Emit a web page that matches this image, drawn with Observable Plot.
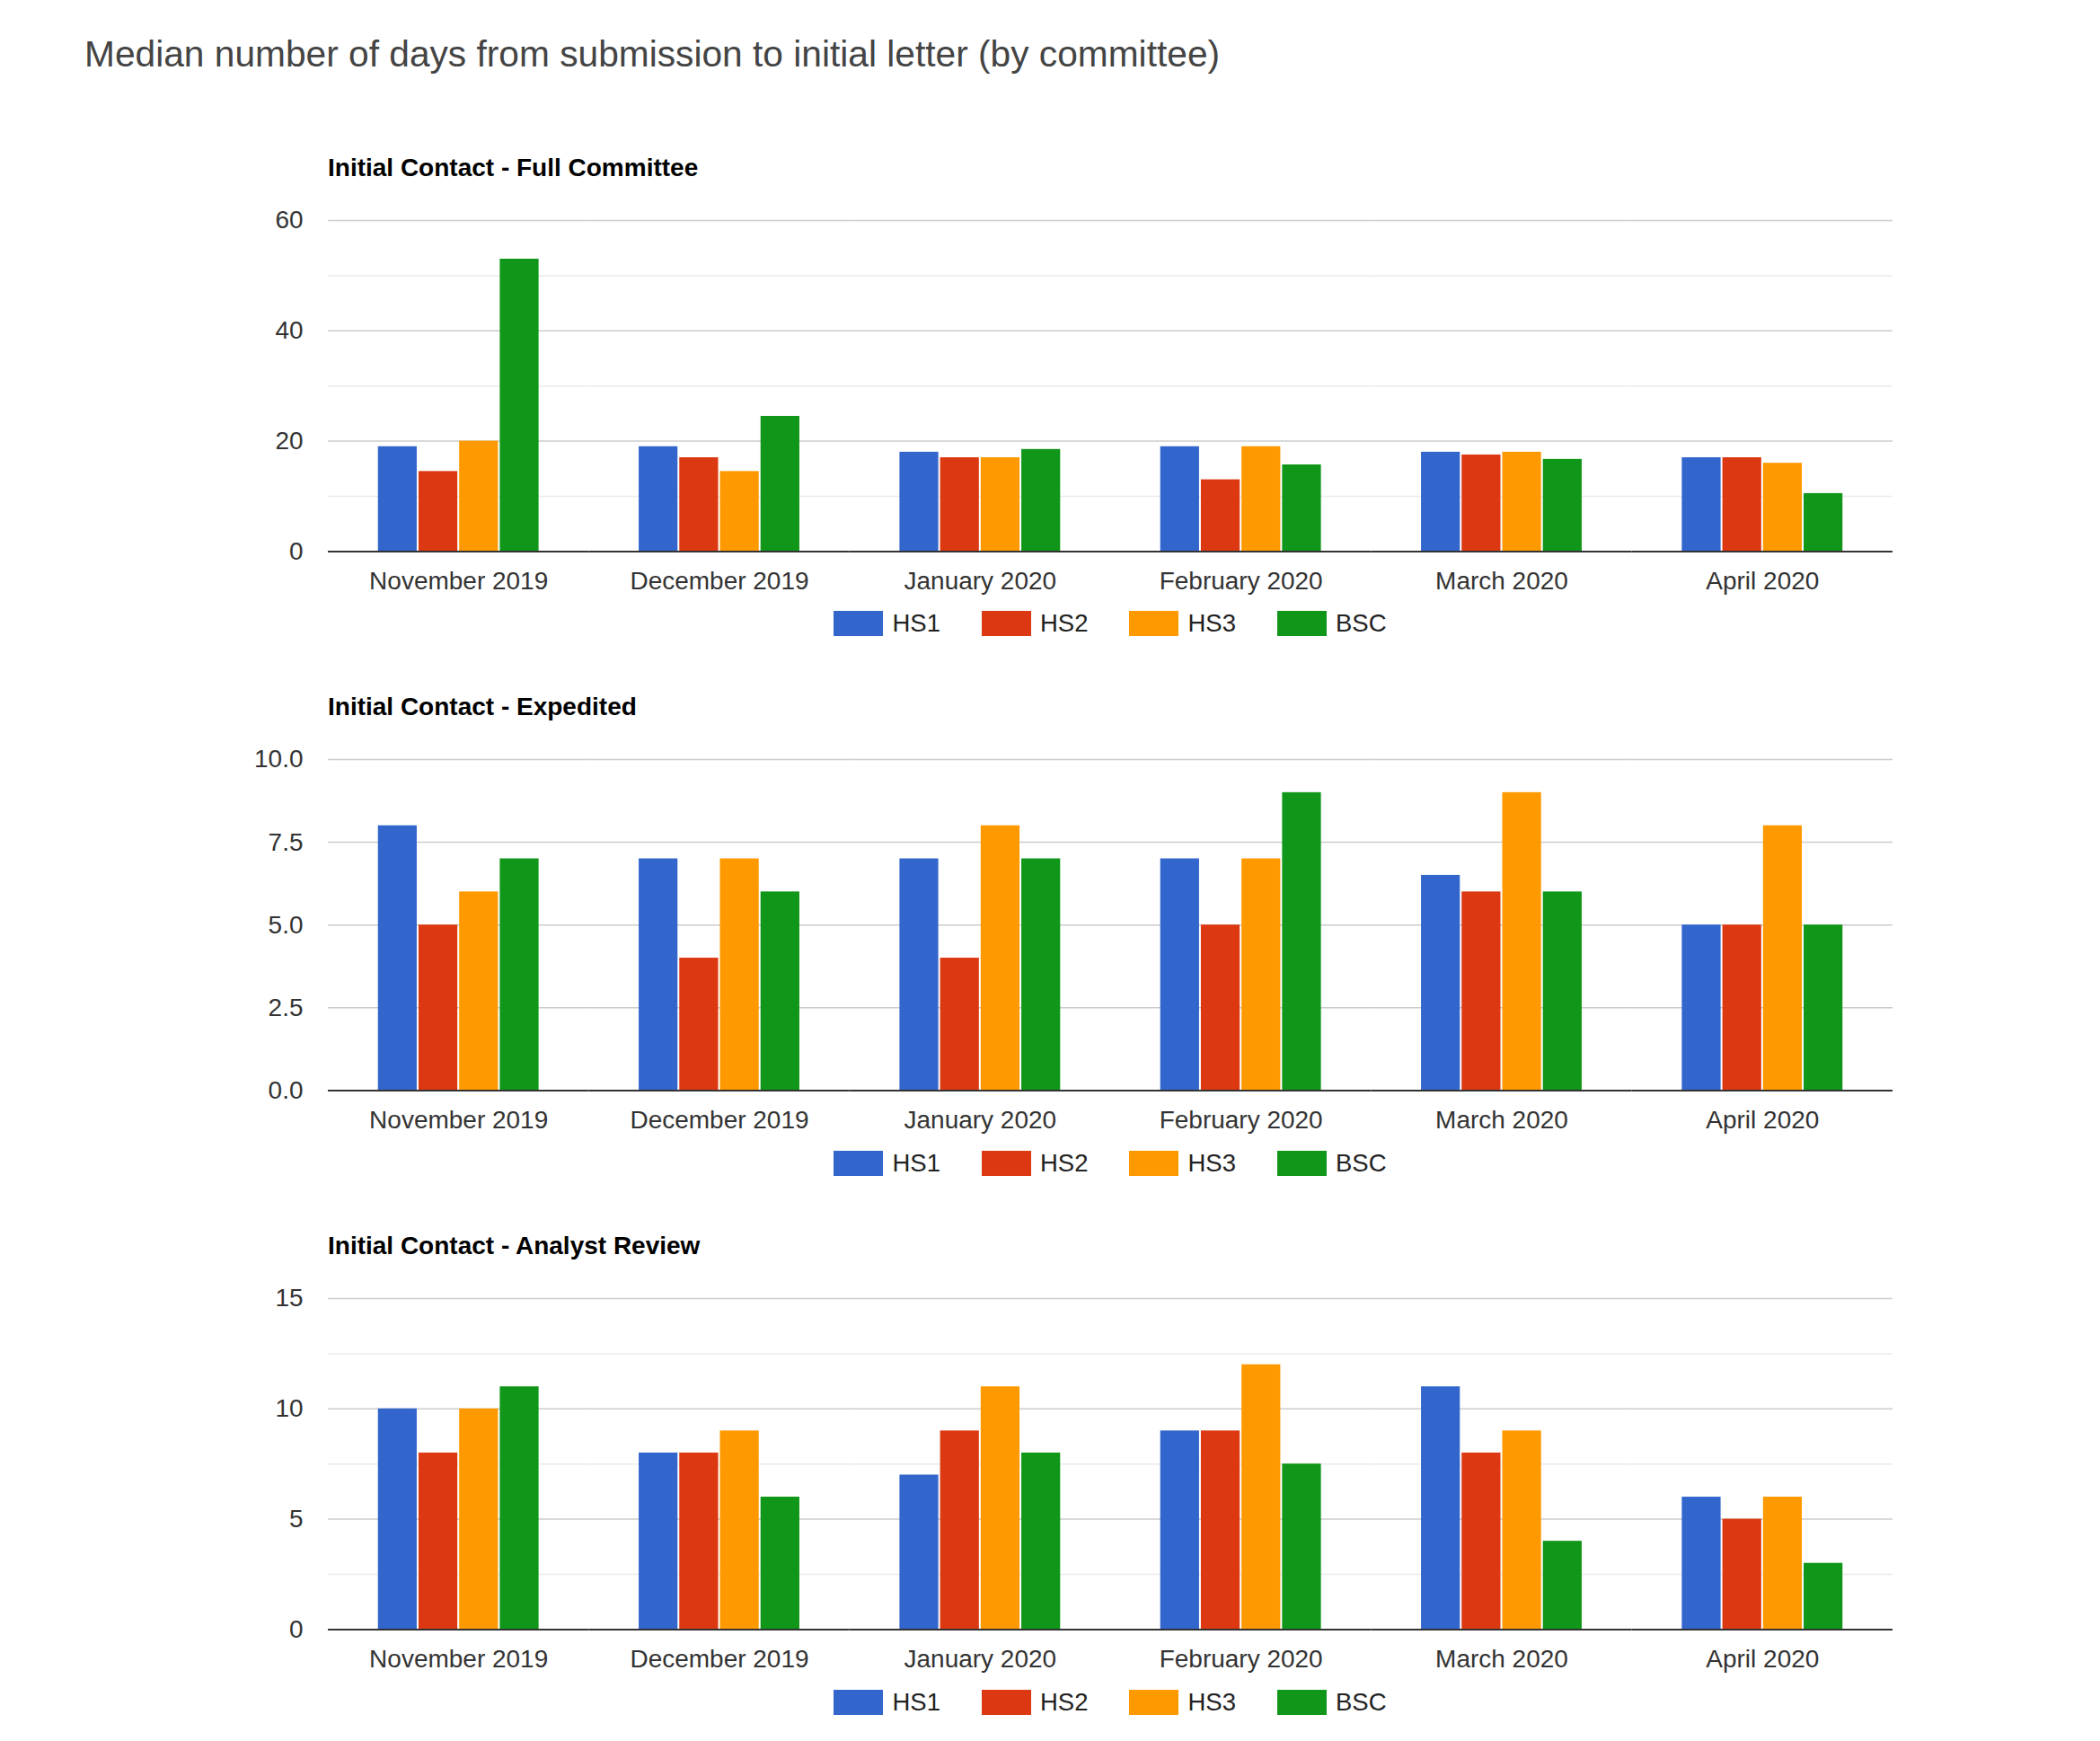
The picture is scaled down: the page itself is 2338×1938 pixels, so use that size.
<!DOCTYPE html>
<html>
<head>
<meta charset="utf-8">
<script src="https://cdn.jsdelivr.net/npm/d3@7"></script>
<script src="https://cdn.jsdelivr.net/npm/@observablehq/plot@0.6"></script>
<style>
  body { margin: 0; background: #fff; font-family: "Liberation Sans", Arial, Helvetica, sans-serif; }
  #root { position: relative; width: 2338px; height: 1938px; overflow: hidden; background: #fff; }
  .abs { position: absolute; white-space: nowrap; }
  .title { font-size: 40.7px; color: #444; }
  .ptitle { font-size: 28px; font-weight: bold; color: #000; }
  .legend { display: flex; justify-content: center; align-items: center; font-size: 27.5px; color: #222; }
  .item { display: flex; align-items: center; margin: 0 23px; }
  .sw { width: 55px; height: 28px; margin-right: 10px; }
  svg { position: absolute; }
</style>
</head>
<body>
<div id="root"></div>
<script>
const months = ["November 2019", "December 2019", "January 2020", "February 2020", "March 2020", "April 2020"];
const series = ["HS1", "HS2", "HS3", "BSC"];
const colors = ["#3366cc", "#dc3912", "#ff9900", "#109618"];

const chartTitle = "Median number of days from submission to initial letter (by committee)";
const panelTitles = ["Initial Contact - Full Committee", "Initial Contact - Expedited", "Initial Contact - Analyst Review"];

// Full Committee
const fullHS1 = [19, 19, 18, 19, 18, 17];
const fullHS2 = [14.5, 17, 17, 13, 17.5, 17];
const fullHS3 = [20, 14.5, 17, 19, 18, 16];
const fullBSC = [53, 24.5, 18.5, 15.7, 16.7, 10.5];
// Expedited
const expHS1 = [8, 7, 7, 7, 6.5, 5];
const expHS2 = [5, 4, 4, 5, 6, 5];
const expHS3 = [6, 7, 8, 7, 9, 8];
const expBSC = [7, 6, 7, 9, 6, 5];
// Analyst Review
const anaHS1 = [10, 8, 7, 9, 11, 6];
const anaHS2 = [8, 8, 9, 9, 8, 5];
const anaHS3 = [10, 9, 11, 12, 9, 6];
const anaBSC = [11, 6, 8, 7.5, 4, 3];

// Axis ticks
const fullTicks = [0, 20, 40, 60];
const fullMinor = [10, 30, 50];
const expTicks = [0, 2.5, 5, 7.5, 10];
const expMinor = [];
const anaTicks = [0, 5, 10, 15];
const anaMinor = [2.5, 7.5, 12.5];

const panels = [
  {title: panelTitles[0], values: [fullHS1, fullHS2, fullHS3, fullBSC], ticks: fullTicks, minor: fullMinor, fmt: d3.format("d")},
  {title: panelTitles[1], values: [expHS1, expHS2, expHS3, expBSC], ticks: expTicks, minor: expMinor, fmt: d3.format(".1f")},
  {title: panelTitles[2], values: [anaHS1, anaHS2, anaHS3, anaBSC], ticks: anaTicks, minor: anaMinor, fmt: d3.format("d")}
];

// layout
const W = 2338, left = 365, right = 2107;
const plotTops = [244.5, 844.8, 1444.8];
const plotH = 368.4;
const mTop = 43, mBottom = 72;

const root = document.getElementById("root");

function addText(cls, text, x, cy, h) {
  const d = document.createElement("div");
  d.className = "abs " + cls;
  d.textContent = text;
  d.style.left = x + "px";
  d.style.top = (cy - h / 2) + "px";
  d.style.height = h + "px";
  d.style.lineHeight = h + "px";
  root.appendChild(d);
  return d;
}

addText("title", chartTitle, 94, 60, 46);

panels.forEach((p, k) => {
  const top = plotTops[k];
  addText("ptitle", p.title, left, top - 58, 34);

  const rows = months.flatMap((m, i) => series.map((s, j) => ({month: m, series: s, value: p.values[j][i]})));
  const dom = [0, d3.max(p.ticks)];

  const svg = Plot.plot({
    width: W,
    height: mTop + plotH + mBottom,
    marginTop: mTop,
    marginBottom: mBottom,
    marginLeft: left,
    marginRight: W - right,
    style: {fontFamily: '"Liberation Sans", Arial, sans-serif', fontSize: "28px", color: "#333", background: "transparent", overflow: "visible"},
    facet: {data: rows, x: "month"},
    fx: {domain: months, padding: 0, round: false, axis: "bottom", tickSize: 0, tickPadding: 22, label: null},
    x: {domain: series, paddingInner: 0, paddingOuter: 1.21, round: false, axis: null},
    y: {domain: dom, ticks: p.ticks, tickFormat: p.fmt, tickSize: 0, tickPadding: 28, label: null},
    color: {domain: series, range: colors},
    marks: [
      Plot.ruleY(p.minor, {stroke: "#ebebeb", strokeWidth: 1.5}),
      Plot.ruleY(p.ticks.filter(t => t > 0), {stroke: "#cccccc", strokeWidth: 1.5}),
      Plot.barY(rows, {x: "series", y: "value", fill: "series", insetLeft: 1, insetRight: 1}),
      Plot.ruleY([0], {stroke: "#333", strokeWidth: 2})
    ]
  });
  svg.style.left = "0px";
  svg.style.top = (top - mTop) + "px";
  root.appendChild(svg);

  const lg = document.createElement("div");
  lg.className = "abs legend";
  lg.style.left = left + "px";
  lg.style.width = (right - left) + "px";
  lg.style.top = (top + plotH + 81.5 - 20) + "px";
  lg.style.height = "40px";
  series.forEach((s, j) => {
    const it = document.createElement("div");
    it.className = "item";
    const sw = document.createElement("div");
    sw.className = "sw";
    sw.style.background = colors[j];
    const tx = document.createElement("span");
    tx.textContent = s;
    it.appendChild(sw);
    it.appendChild(tx);
    lg.appendChild(it);
  });
  root.appendChild(lg);
});
</script>
</body>
</html>
